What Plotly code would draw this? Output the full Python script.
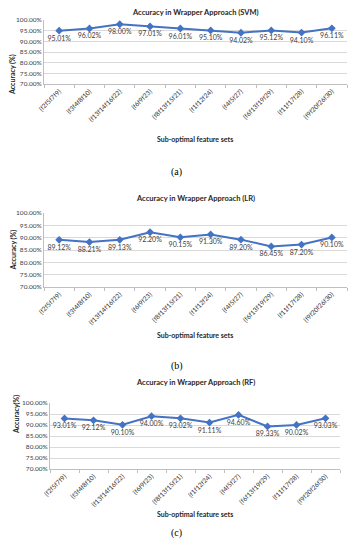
import plotly.graph_objects as go

categories = ["{f2f5f7f9}", "{f3f4f8f10}", "{f13f14f16f22}", "{f6f9f23}", "{f8f13f15f21}",
              "{f1f12f24}", "{f4f5f27}", "{f6f13f19f29}", "{f11f17f28}", "{f9f20f26f30}"]
svm_values = [95.01, 96.02, 98.00, 97.01, 96.01, 95.10, 94.02, 95.12, 94.10, 96.11]
lr_values = [89.12, 88.21, 89.13, 92.20, 90.15, 91.30, 89.20, 86.45, 87.20, 90.10]
rf_values = [93.01, 92.12, 90.10, 94.00, 93.02, 91.11, 94.60, 89.33, 90.02, 93.03]
titles = ["Accuracy in Wrapper Approach (SVM)", "Accuracy in Wrapper Approach (LR)",
          "Accuracy in Wrapper Approach (RF)"]
ytitles = ["Accuracy (%)", "Accuracy (%)", "Accuracy(%)"]
captions = ["(a)", "(b)", "(c)"]
y_ticks = [70, 75, 80, 85, 90, 95, 100]

W, H = 353, 550
FONT = "Lato"
BLUE = "#4472C4"

# pixel layout of each panel: (x0, x1, ytop, ybottom, title_y, xtitle_y, caption_y, ytitle_x)
panels = [
    (44, 347, 20, 84, 6, 133, 164, 6),
    (44, 347, 213, 287, 198, 335, 366, 6),
    (50, 340, 403, 469, 389, 520, 541, 10),
]

fig = go.Figure()
series = [svm_values, lr_values, rf_values]
annotations = []
for i, (vals, p) in enumerate(zip(series, panels)):
    x0, x1, yt, yb, ty, xty, cy, ytx = p
    suffix = "" if i == 0 else str(i + 1)
    fig.add_trace(go.Scatter(
        x=categories, y=vals, mode="lines+markers+text",
        text=[f"{v:.2f}%" for v in vals], textposition="bottom center",
        textfont=dict(family=FONT, size=7, color="#404040"),
        line=dict(color=BLUE, width=2), marker=dict(symbol="diamond", size=6, color=BLUE),
        xaxis="x" + suffix, yaxis="y" + suffix, showlegend=False, cliponaxis=False))
    fig.layout["xaxis" + suffix] = dict(
        domain=[x0 / W, x1 / W], anchor="y" + suffix, type="category",
        range=[-0.5, len(categories) - 0.5], tickangle=-45, automargin=False,
        tickfont=dict(family=FONT, size=6.5, color="#333333"),
        showline=True, linecolor="#BFBFBF", linewidth=1, showgrid=False,
        ticks="outside", ticklen=3, tickcolor="#BFBFBF", tickson="boundaries", fixedrange=True)
    fig.layout["yaxis" + suffix] = dict(
        domain=[1 - yb / H, 1 - yt / H], anchor="x" + suffix, range=[70, 100], automargin=False,
        tickvals=y_ticks, ticktext=[f"{t:.2f}%" for t in y_ticks],
        tickfont=dict(family=FONT, size=6.5, color="#404040"),
        showgrid=True, gridcolor="#D9D9D9", gridwidth=1, zeroline=False,
        showline=True, linecolor="#BFBFBF", linewidth=1, ticks="", fixedrange=True)
    annotations.append(dict(text=f"<b>{titles[i]}</b>", x=(x0 + x1) / 2 / W, y=1 - ty / H,
                            xref="paper", yref="paper", showarrow=False,
                            font=dict(family=FONT, size=7.5, color="#262626")))
    annotations.append(dict(text=f"<b>{ytitles[i]}</b>", x=ytx / W, y=1 - (yt + yb) / 2 / H,
                            xref="paper", yref="paper", showarrow=False, textangle=-90,
                            font=dict(family=FONT, size=7, color="#262626")))
    annotations.append(dict(text="<b>Sub-optimal feature sets</b>", x=(x0 + x1) / 2 / W, y=1 - xty / H,
                            xref="paper", yref="paper", showarrow=False,
                            font=dict(family=FONT, size=7, color="#262626")))
    annotations.append(dict(text=captions[i], x=0.5, y=1 - cy / H,
                            xref="paper", yref="paper", showarrow=False,
                            font=dict(family="Liberation Serif", size=10, color="#000000")))

fig.update_layout(width=W, height=H, margin=dict(l=0, r=0, t=0, b=0),
                  paper_bgcolor="white", plot_bgcolor="white", annotations=annotations)
fig.write_html("out.html", config={"displayModeBar": False},
               post_script="document.body.style.margin='0px';")
